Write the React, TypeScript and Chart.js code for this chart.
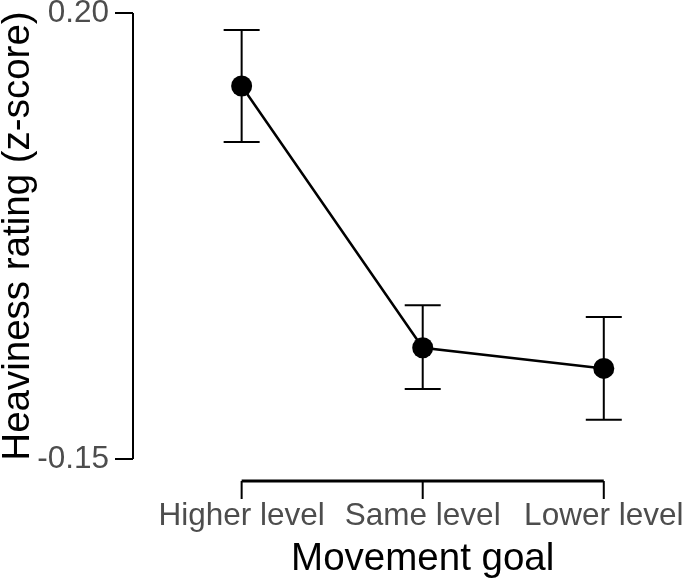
import React, { useEffect, useRef } from "react";
import { Chart, registerables } from "chart.js";

Chart.register(...registerables);

const categories = ["Higher level", "Same level", "Lower level"];
const means = [0.1427, -0.0627, -0.0789];
const errLow = [0.0987, -0.0951, -0.1192];
const errHigh = [0.1867, -0.0294, -0.0386];
const yTicks = [0.2, -0.15];
const yTickLabels = ["0.20", "-0.15"];
const xTitle = "Movement goal";
const yTitle = "Heaviness rating (z-score)";

const FONT = "'Liberation Sans', Arial, Helvetica, sans-serif";

const customAxes = {
  id: "customAxes",
  beforeDatasetsDraw(chart: any) {
    const ctx = chart.ctx;
    const xs = chart.scales.x;
    const ys = chart.scales.y;
    ctx.save();
    ctx.strokeStyle = "#000";
    ctx.lineWidth = 2;
    for (let i = 0; i < means.length; i++) {
      const x = xs.getPixelForValue(i);
      const yl = ys.getPixelForValue(errLow[i]);
      const yh = ys.getPixelForValue(errHigh[i]);
      ctx.beginPath();
      ctx.moveTo(x, yl);
      ctx.lineTo(x, yh);
      ctx.moveTo(x - 18, yl);
      ctx.lineTo(x + 18, yl);
      ctx.moveTo(x - 18, yh);
      ctx.lineTo(x + 18, yh);
      ctx.stroke();
    }
    ctx.restore();
  },
  afterDraw(chart: any) {
    const ctx = chart.ctx;
    const xs = chart.scales.x;
    const ys = chart.scales.y;
    const area = chart.chartArea;
    ctx.save();
    // y axis
    const ax = area.left;
    ctx.strokeStyle = "#000";
    ctx.lineWidth = 2;
    ctx.beginPath();
    ctx.moveTo(ax, ys.getPixelForValue(yTicks[0]));
    ctx.lineTo(ax, ys.getPixelForValue(yTicks[yTicks.length - 1]));
    for (const v of yTicks) {
      const y = ys.getPixelForValue(v);
      ctx.moveTo(ax - 18, y);
      ctx.lineTo(ax, y);
    }
    ctx.stroke();
    ctx.fillStyle = "#4d4d4d";
    ctx.font = `31.5px ${FONT}`;
    ctx.textAlign = "right";
    ctx.textBaseline = "middle";
    yTicks.forEach((v, i) => {
      ctx.fillText(yTickLabels[i], ax - 24, ys.getPixelForValue(v));
    });
    // x axis
    const axY = area.bottom + 22;
    ctx.lineWidth = 3;
    ctx.beginPath();
    ctx.moveTo(xs.getPixelForValue(0), axY);
    ctx.lineTo(xs.getPixelForValue(categories.length - 1), axY);
    ctx.stroke();
    ctx.lineWidth = 2;
    ctx.beginPath();
    categories.forEach((_, i) => {
      const x = xs.getPixelForValue(i);
      ctx.moveTo(x, axY);
      ctx.lineTo(x, axY + 18);
    });
    ctx.stroke();
    ctx.textAlign = "center";
    ctx.textBaseline = "alphabetic";
    categories.forEach((c, i) => {
      ctx.fillText(c, xs.getPixelForValue(i), axY + 44);
    });
    // titles
    ctx.fillStyle = "#000";
    ctx.font = `38.5px ${FONT}`;
    ctx.fillText(xTitle, (xs.getPixelForValue(0) + xs.getPixelForValue(2)) / 2, axY + 89);
    ctx.save();
    ctx.translate(29, (area.top + area.bottom) / 2);
    ctx.rotate(-Math.PI / 2);
    ctx.textAlign = "center";
    ctx.fillText(yTitle, 0, 0);
    ctx.restore();
    ctx.restore();
  },
};

export default function App() {
  const ref = useRef<HTMLCanvasElement>(null);
  useEffect(() => {
    if (!ref.current) return;
    const chart = new Chart(ref.current, {
      type: "scatter",
      data: {
        datasets: [
          {
            data: means.map((m, i) => ({ x: i, y: m })),
            showLine: true,
            borderColor: "#000",
            borderWidth: 2.5,
            backgroundColor: "#000",
            pointRadius: 10.5,
            pointBorderWidth: 0,
            pointHoverRadius: 10.5,
          },
        ],
      },
      options: {
        animation: false,
        responsive: false,
        events: [],
        layout: { padding: { left: 133, top: 13, right: 45, bottom: 124 } },
        plugins: { legend: { display: false }, tooltip: { enabled: false } },
        scales: {
          x: { type: "linear", min: -0.6, max: 2.2, display: false },
          y: { type: "linear", min: -0.15, max: 0.2, display: false },
        },
      },
      plugins: [customAxes],
    });
    return () => chart.destroy();
  }, []);
  return (
    <div style={{ position: "fixed", left: 0, top: 0, width: 685, height: 583, background: "#fff" }}>
      <canvas ref={ref} width={685} height={583} />
    </div>
  );
}
